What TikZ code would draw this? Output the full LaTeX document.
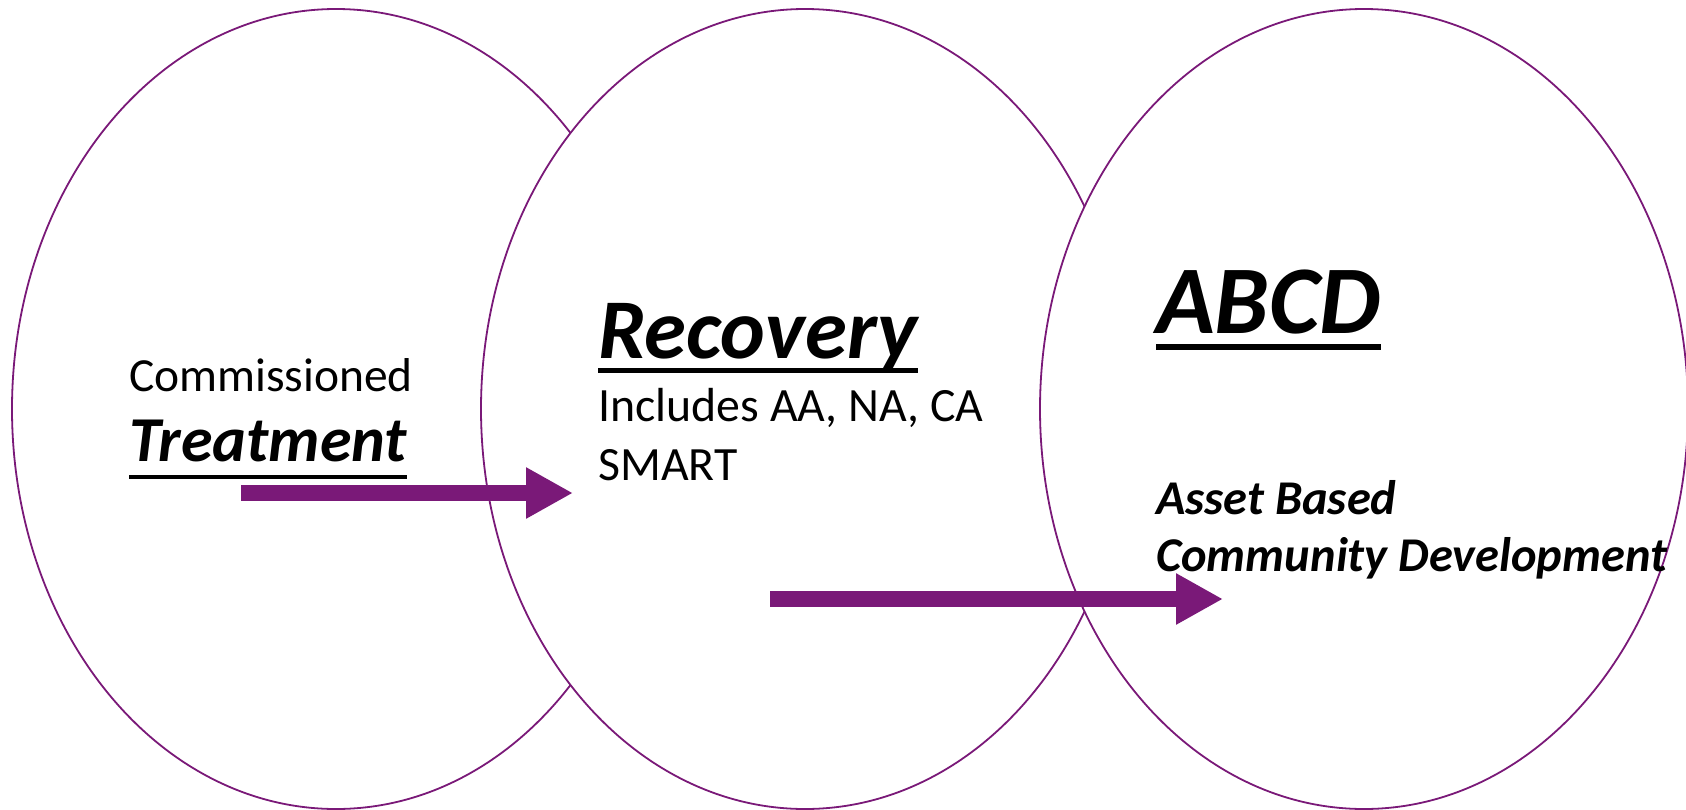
\documentclass[tikz,border=0pt]{standalone}
\usepackage{fontspec}
\setmainfont{Carlito}
\usetikzlibrary{arrows.meta}
\definecolor{plum}{HTML}{7A1978}
\tikzset{
  oval/.style={draw=plum, line width=1.8pt, fill=white},
  txt/.style={inner sep=0pt, anchor=base west, text=black},
  ulin/.style={line width=4.5pt, black},
  bigarrow/.style={plum, line width=16pt, -{Triangle[length=47pt, width=48pt]}}
}
\begin{document}
\begin{tikzpicture}[x=1pt, y=-1pt]
\useasboundingbox (0,0) rectangle (1686,809);
% ellipses
\draw[oval] (336,409) ellipse [x radius=324, y radius=400];
\draw[oval] (805,409) ellipse [x radius=324, y radius=400];
\draw[oval] (1364,409) ellipse [x radius=324, y radius=400];
% circle 1 texts
\node[txt, font=\fontsize{47.5}{56}\selectfont] (comm) at (129,391) {Commissioned};
\node[txt, font=\fontsize{64}{75}\selectfont\bfseries\itshape] (treat) at (129,461) {Treatment};
\draw[ulin] ([yshift=-16pt]treat.base west) -- ([yshift=-16pt]treat.base east);
% circle 2 texts
\node[txt, font=\fontsize{85}{100}\selectfont\bfseries\itshape] (reco) at (598,358) {Recovery};
\draw[ulin, line width=5pt] ([yshift=-12pt]reco.base west) -- ([yshift=-12pt]reco.base east);
\node[txt, font=\fontsize{47.8}{56}\selectfont] (incl) at (598,421) {Includes AA, NA, CA};
\node[txt, font=\fontsize{47.8}{56}\selectfont] (smart) at (598,480) {SMART};
% circle 3 texts
\node[txt, font=\fontsize{97}{115}\selectfont\bfseries\itshape] (abcd) at (1156,333) {ABCD};
\draw[ulin, line width=6pt] ([yshift=-14pt]abcd.base west) -- ([yshift=-14pt]abcd.base east);
\node[txt, font=\fontsize{48.5}{56}\selectfont\bfseries\itshape] (asset) at (1156,514) {Asset Based};
\node[txt, font=\fontsize{48.5}{56}\selectfont\bfseries\itshape] (cdev) at (1156,571) {Community Development};
% arrows
\coordinate (a1s) at (241,493);
\coordinate (a1e) at (573,493);
\coordinate (a2s) at (770,599);
\coordinate (a2e) at (1223,599);
\draw[bigarrow] (a1s) -- (a1e);
\draw[bigarrow] (a2s) -- (a2e);
\end{tikzpicture}
\end{document}
